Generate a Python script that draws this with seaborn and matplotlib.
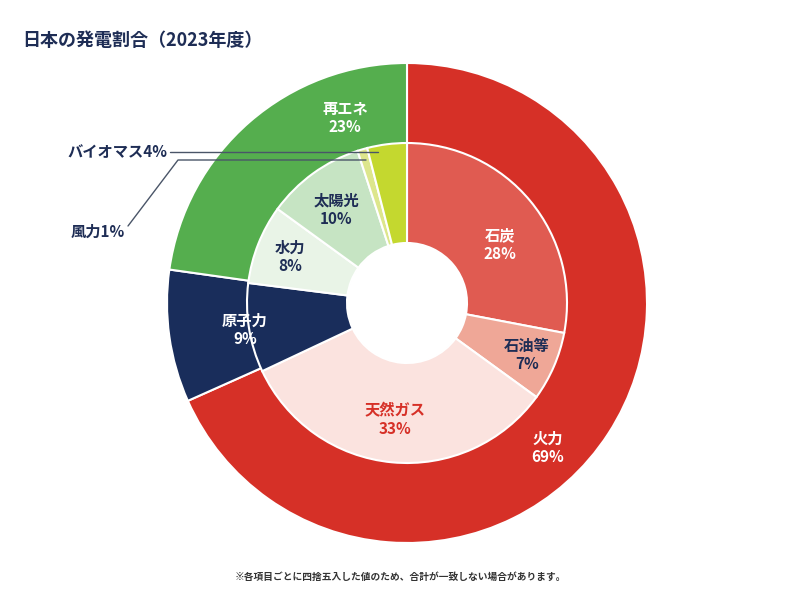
import matplotlib
matplotlib.use('Agg')
import matplotlib.pyplot as plt
import seaborn as sns

# outer ring
outer_labels = ['火力', '原子力', '再エネ']
outer_values = [69, 9, 23]
outer_colors = ['#D63027', '#192D5B', '#55AE4E']

# inner ring
inner_labels = ['石炭', '石油等', '天然ガス', '原子力', '水力', '太陽光', '風力', 'バイオマス']
inner_values = [28, 7, 33, 9, 8, 10, 1, 4]
inner_colors = ['#E05B51', '#EFA797', '#FBE3DF', '#192D5B', '#E9F4E7', '#C6E4C3', '#DDE68C', '#C4D82F']

sns.set_theme(style='white')
plt.rcParams['font.family'] = ['Noto Sans CJK JP', 'DejaVu Sans']

fig = plt.figure(figsize=(8, 6.08), dpi=100)
ax = fig.add_axes([0, 0, 1, 1])
# axes units = pixels, pie centre at (407, 305) from top-left
cx, cy = 407, 303
ax.set_xlim(-cx, 800 - cx)
ax.set_ylim(-(608 - cy), cy)
ax.set_aspect('equal')
ax.axis('off')

ax.pie(outer_values, colors=outer_colors, radius=240, startangle=90, counterclock=False,
       wedgeprops=dict(width=180, edgecolor='white', linewidth=1.5))
ax.pie(inner_values, colors=inner_colors, radius=160, startangle=90, counterclock=False,
       wedgeprops=dict(width=100, edgecolor='white', linewidth=1.5))
ax.set_xlim(-cx, 800 - cx)
ax.set_ylim(-(608 - cy), cy)

def px(x, y):
    return x - cx, cy - y

navy = '#1E2D55'
labels = [
    ('火力\n69%', 548, 448, 'white'),
    ('石炭\n28%', 500, 245, 'white'),
    ('石油等\n7%', 527, 355, navy),
    ('天然ガス\n33%', 395, 420, '#D63027'),
    ('原子力\n9%', 245, 330, 'white'),
    ('水力\n8%', 290, 257, navy),
    ('太陽光\n10%', 336, 210, navy),
    ('再エネ\n23%', 345, 118, 'white'),
]
for txt, x, y, c in labels:
    ax.text(*px(x, y), txt, ha='center', va='center', color=c, fontsize=11,
            fontweight='bold', linespacing=1.2)

# callouts for the small slices
line_c = '#4A5568'
ax.plot(*zip(px(170, 152), px(378, 152)), color=line_c, lw=1)
ax.text(*px(167, 152), 'バイオマス4%', ha='right', va='center', color=navy, fontsize=11, fontweight='bold')
ax.plot(*zip(px(128, 226), px(178, 160), px(366, 160)), color=line_c, lw=1)
ax.text(*px(125, 232), '風力1%', ha='right', va='center', color=navy, fontsize=11, fontweight='bold')

fig.text(22 / 800, 1 - 40 / 608, '日本の発電割合（2023年度）', ha='left', va='center',
         fontsize=13, fontweight='bold', color=navy)
fig.text(400 / 800, 1 - 577 / 608, '※各項目ごとに四捨五入した値のため、合計が一致しない場合があります。',
         ha='center', va='center', fontsize=7, fontweight='bold', color='#333333')

fig.savefig('out.png', dpi=100)
